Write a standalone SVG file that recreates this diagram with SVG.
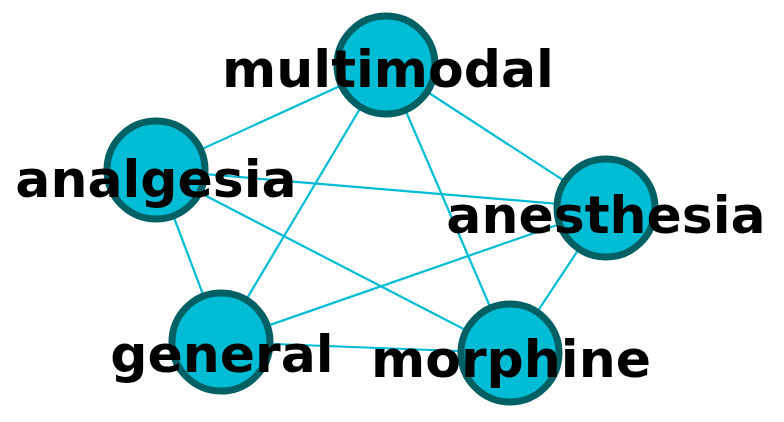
<svg xmlns="http://www.w3.org/2000/svg" width="784" height="422" viewBox="0 0 784 422">
<style>
.edge{stroke:#00BCD4;stroke-width:2.2;fill:none}
.node circle{fill:#00BCD4;stroke:#006064;stroke-width:7}
.lbl{font-family:"DejaVu Sans","Liberation Sans",sans-serif;font-weight:bold;font-size:52px;fill:#000;text-anchor:middle}
</style>
<rect width="784" height="422" fill="#fff"/>
<g id="edges">
<line class="edge" x1="386" y1="65" x2="156" y2="170"/>
<line class="edge" x1="386" y1="65" x2="606" y2="208"/>
<line class="edge" x1="386" y1="65" x2="221" y2="342"/>
<line class="edge" x1="386" y1="65" x2="510" y2="353"/>
<line class="edge" x1="156" y1="170" x2="606" y2="208"/>
<line class="edge" x1="156" y1="170" x2="221" y2="342"/>
<line class="edge" x1="156" y1="170" x2="510" y2="353"/>
<line class="edge" x1="606" y1="208" x2="221" y2="342"/>
<line class="edge" x1="606" y1="208" x2="510" y2="353"/>
<line class="edge" x1="221" y1="342" x2="510" y2="353"/>
</g>
<g id="node-multimodal" class="node"><circle cx="386" cy="65" r="49"/></g>
<g id="node-analgesia" class="node"><circle cx="156" cy="170" r="49"/></g>
<g id="node-anesthesia" class="node"><circle cx="606" cy="208" r="49"/></g>
<g id="node-general" class="node"><circle cx="221" cy="342" r="49"/></g>
<g id="node-morphine" class="node"><circle cx="510" cy="353" r="49"/></g>
<g id="labels">
<text class="lbl" x="388" y="87">multimodal</text>
<text class="lbl" x="156" y="197">analgesia</text>
<text class="lbl" x="606" y="233">anesthesia</text>
<text class="lbl" x="222" y="372">general</text>
<text class="lbl" x="511" y="377">morphine</text>
</g>
</svg>
